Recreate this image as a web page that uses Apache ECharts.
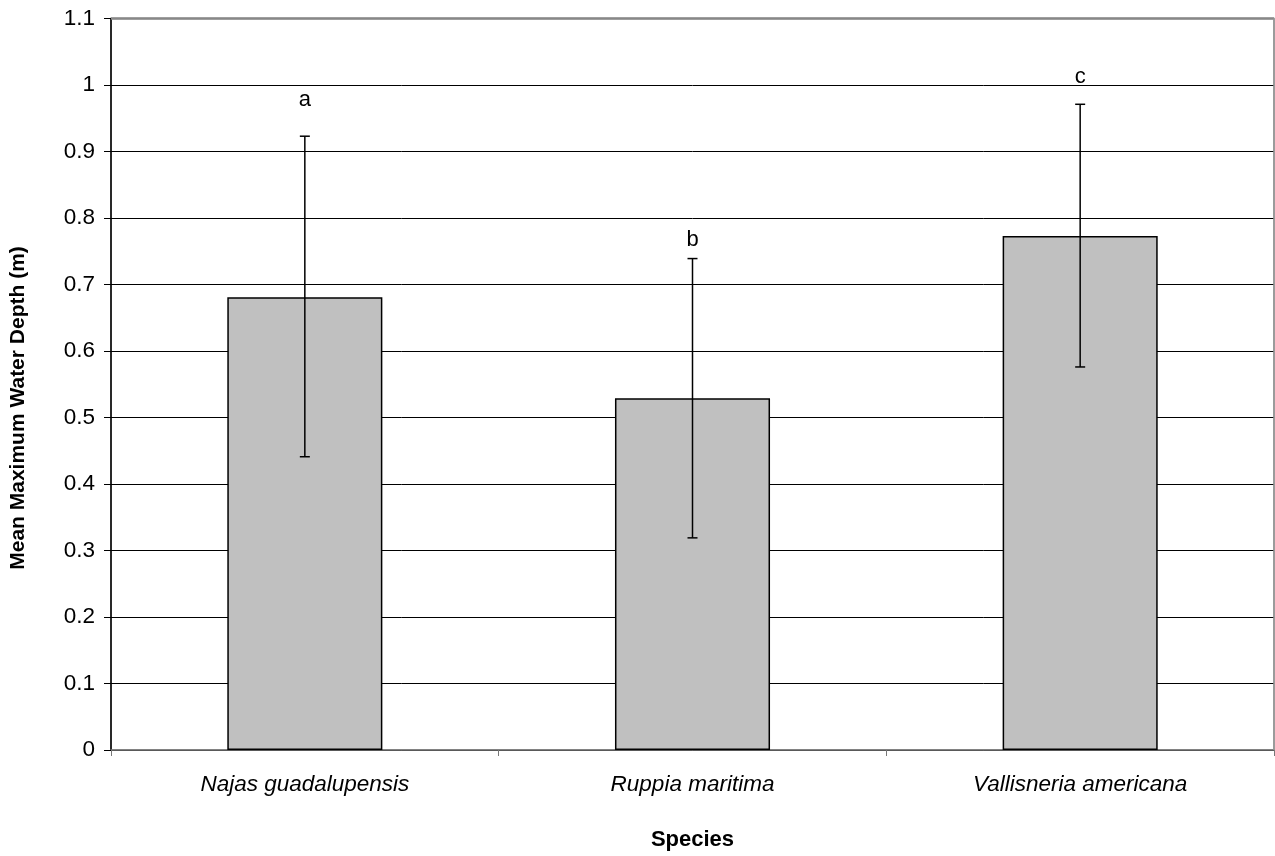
<!DOCTYPE html>
<html>
<head>
<meta charset="utf-8">
<script src="https://cdn.jsdelivr.net/npm/echarts@6/dist/echarts.min.js"></script>
<style>html,body{margin:0;padding:0;background:#fff;}#c{width:1275px;height:856px;}</style>
</head>
<body>
<div id="c"></div>
<script>
const categories = ['Najas guadalupensis', 'Ruppia maritima', 'Vallisneria americana'];
const means = [0.681, 0.529, 0.773];
const errLow = [0.441, 0.319, 0.576];
const errHigh = [0.923, 0.739, 0.971];
const letters = ['a', 'b', 'c'];
const letterValues = [0.977, 0.767, 1.012];
const yTicks = [0, 0.1, 0.2, 0.3, 0.4, 0.5, 0.6, 0.7, 0.8, 0.9, 1, 1.1];

const FONT = '"Liberation Sans", Arial, sans-serif';
const chart = echarts.init(document.getElementById('c'), null, {renderer: 'canvas'});

const option = {
  animation: false,
  backgroundColor: '#fff',
  grid: {left: 111, right: 1, top: 18.5, bottom: 106, show: true, borderColor: '#888', borderWidth: 1.5, backgroundColor: '#fff'},
  xAxis: {
    type: 'category',
    data: categories,
    name: 'Species',
    nameLocation: 'middle',
    nameGap: 79,
    nameTextStyle: {fontFamily: FONT, fontSize: 22, fontWeight: 'bold', color: '#000'},
    axisLine: {lineStyle: {color: '#777', width: 1.5}},
    axisTick: {show: true, length: 6, lineStyle: {color: '#777'}},
    axisLabel: {fontFamily: FONT, fontSize: 22.5, fontStyle: 'italic', color: '#000', margin: 23},
    splitLine: {show: false}
  },
  yAxis: {
    type: 'value',
    min: 0,
    max: 1.1,
    interval: 0.1,
    axisLine: {show: true, lineStyle: {color: '#000', width: 1.5}},
    axisTick: {show: true, length: 7, lineStyle: {color: '#000'}},
    axisLabel: {fontFamily: FONT, fontSize: 22.5, color: '#000', margin: 16,
      formatter: v => { const t = yTicks.find(x => Math.abs(x - v) < 1e-6); return t === undefined ? '' : String(t); }},
    splitLine: {show: true, lineStyle: {color: '#000', width: 1}}
  },
  graphic: [{
    type: 'text',
    x: 18, y: 408,
    rotation: Math.PI / 2,
    style: {text: 'Mean Maximum Water Depth (m)', font: 'bold 21px ' + FONT, fill: '#000', align: 'center', verticalAlign: 'middle'}
  }],
  series: [
    {
      type: 'bar',
      data: means,
      barWidth: '40%',
      itemStyle: {color: '#c0c0c0', borderColor: '#000', borderWidth: 1.5},
      z: 2
    },
    {
      type: 'custom',
      data: categories.map((c, i) => [i, errLow[i], errHigh[i], letterValues[i]]),
      z: 5,
      renderItem: function (params, api) {
        const x = api.coord([api.value(0), 0])[0];
        const yl = api.coord([api.value(0), api.value(1)])[1];
        const yh = api.coord([api.value(0), api.value(2)])[1];
        const yt = api.coord([api.value(0), api.value(3)])[1];
        const cap = 5;
        const st = {stroke: '#000', lineWidth: 1.5};
        return {
          type: 'group',
          children: [
            {type: 'line', shape: {x1: x, y1: yl, x2: x, y2: yh}, style: st},
            {type: 'line', shape: {x1: x - cap, y1: yh, x2: x + cap, y2: yh}, style: st},
            {type: 'line', shape: {x1: x - cap, y1: yl, x2: x + cap, y2: yl}, style: st},
            {type: 'text', x: x, y: yt, style: {text: letters[params.dataIndex], font: '22px ' + FONT, fill: '#000', align: 'center', verticalAlign: 'middle'}}
          ]
        };
      }
    }
  ]
};
chart.setOption(option);
// grey plot-area frame on top and right, drawn over the top gridline
const yTop = chart.convertToPixel({yAxisIndex: 0}, yTicks[yTicks.length - 1]);
const yBot = chart.convertToPixel({yAxisIndex: 0}, 0);
chart.setOption({graphic: [
  option.graphic[0],
  {type: 'line', z: 100, shape: {x1: 111, y1: yTop, x2: 1274, y2: yTop}, style: {stroke: '#888', lineWidth: 2.5}},
  {type: 'line', z: 100, shape: {x1: 1274, y1: yTop, x2: 1274, y2: yBot}, style: {stroke: '#999', lineWidth: 1.5}}
]});
</script>
</body>
</html>
